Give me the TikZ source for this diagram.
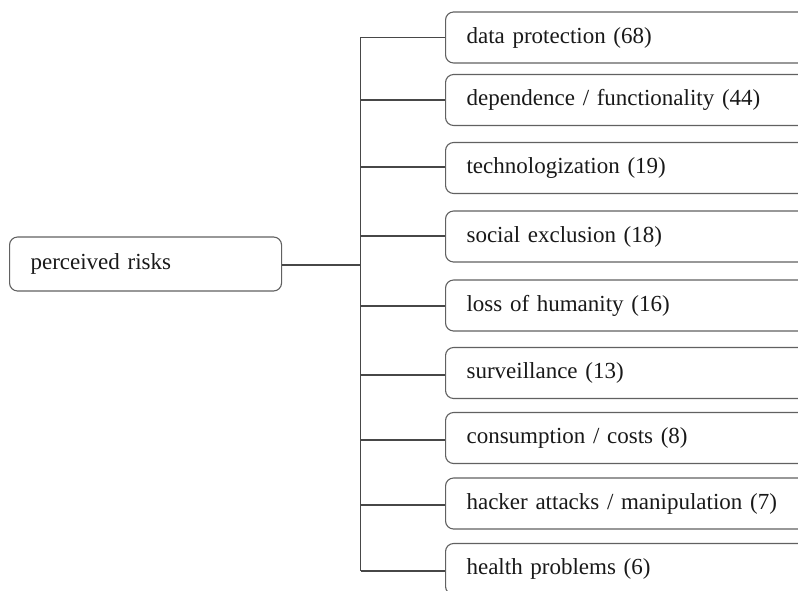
\documentclass[tikz,border=0pt]{standalone}
\usepackage{fontspec}
\setmainfont{Liberation Serif}
\begin{document}
\begin{tikzpicture}[x=1pt,y=-1pt,
  every node/.style={font=\fontsize{23}{27}\selectfont, text=black!90},
  riskbox/.style={draw=black!62, line width=1.1pt, rounded corners=8pt, fill=white,
    minimum height=51pt, minimum width=420pt, text width=378pt, align=left,
    inner xsep=21pt, anchor=west},
  rootbox/.style={draw=black!62, line width=1.1pt, rounded corners=8pt, fill=white,
    minimum height=54pt, minimum width=272pt, text width=230pt, align=left,
    inner xsep=21pt, anchor=west},
  link/.style={draw=black!72, line width=1.1pt}]
\useasboundingbox (0,0) rectangle (798,591);
\clip (0,0) rectangle (798,591);
\node[rootbox] (L) at (9,264) {perceived risks};
\node[riskbox] (B1) at (445,37.5) {data protection (68)};
\node[riskbox] (B2) at (445,100) {dependence / functionality (44)};
\node[riskbox] (B3) at (445,168) {technologization (19)};
\node[riskbox] (B4) at (445,236.5) {social exclusion (18)};
\node[riskbox] (B5) at (445,305.5) {loss of humanity (16)};
\node[riskbox] (B6) at (445,373) {surveillance (13)};
\node[riskbox] (B7) at (445,438) {consumption / costs (8)};
\node[riskbox] (B8) at (445,503.5) {hacker attacks / manipulation (7)};
\node[riskbox] (B9) at (445,569) {health problems (6)};
\coordinate (T1) at (360.5,37.5);
\coordinate (T2) at (360.5,100);
\coordinate (T3) at (360.5,167);
\coordinate (T4) at (360.5,236);
\coordinate (T5) at (360.5,306);
\coordinate (T6) at (360.5,375);
\coordinate (T7) at (360.5,440);
\coordinate (T8) at (360.5,505);
\coordinate (T9) at (360.5,571);
\coordinate (TM) at (360.5,265);
\draw[link] (T1) -- (T9);
\draw[link] (L.east |- TM) -- (TM);
\foreach \i in {1,...,9} {
  \draw[link] (T\i) -- (B\i.west |- T\i);
}
\end{tikzpicture}
\end{document}
